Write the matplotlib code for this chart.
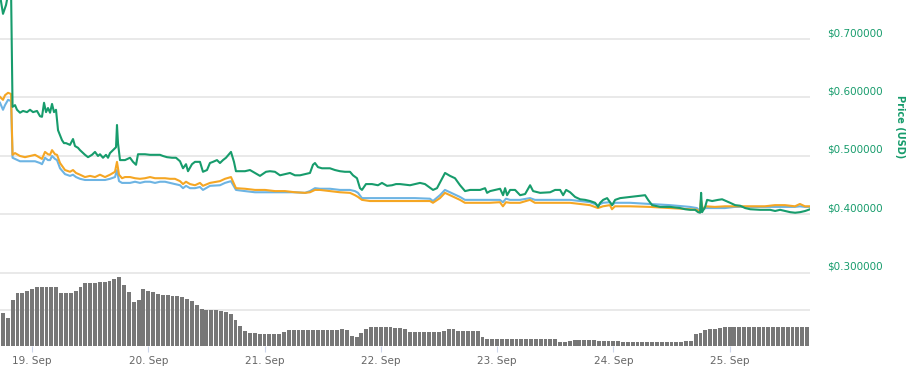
import matplotlib
matplotlib.use("Agg")
import matplotlib.pyplot as plt
from matplotlib.transforms import offset_copy

# hours since 19 Sep 00:00
green_hours = [-6.61, -5.99, -5.37, -4.75, -4.33, -4.02, -3.51, -3.10, -2.48, -1.86, -1.03, -0.41,
               0.21, 1.03, 1.65, 2.06, 2.48, 2.89, 3.30, 3.72, 4.13, 4.54, 4.95, 5.37, 6.19, 6.60,
               7.02, 7.84, 8.46, 8.87, 9.49, 9.91, 10.94, 11.56, 12.38, 13.00, 13.62, 14.03, 14.65,
               15.27, 15.69, 16.10, 16.72, 17.34, 17.54, 17.75, 18.16, 19.19, 20.23, 20.85, 21.47,
               21.88, 22.50, 23.32, 24.36, 25.39, 26.42, 27.04, 27.86, 28.90, 29.72, 30.55, 31.17,
               31.79, 32.20, 33.02, 33.64, 34.67, 35.29, 36.12, 36.73, 37.36, 38.18, 38.80, 39.42,
               40.04, 41.07, 41.69, 42.10, 43.96, 44.99, 46.03, 47.06, 48.30, 49.12, 50.15, 51.19,
               52.22, 53.25, 54.28, 55.32, 56.35, 57.38, 58.00, 58.41, 59.03, 59.85, 61.50, 62.54,
               63.57, 64.60, 65.64, 66.26, 67.08, 67.70, 68.11, 68.94, 70.18, 71.42, 72.24, 73.28,
               74.31, 75.14, 75.96, 78.03, 80.09, 81.12, 82.78, 83.60, 85.26, 86.29, 87.32, 88.36,
               89.39, 90.43, 92.49, 93.52, 93.94, 94.56, 95.59, 96.63, 97.24, 97.66, 98.07, 98.69,
               99.72, 100.76, 101.79, 102.82, 103.44, 104.89, 106.95, 107.98, 109.02, 109.64,
               110.26, 111.08, 112.11, 113.15, 114.18, 115.21, 116.24, 116.86, 117.28, 117.90,
               118.72, 119.75, 120.37, 121.40, 123.47, 125.53, 126.56, 127.18, 128.01, 129.66,
               131.72, 133.79, 134.82, 135.85, 136.88, 137.50, 137.92, 138.12, 138.33, 138.95,
               139.36, 140.40, 141.63, 142.46, 144.11, 145.14, 146.18, 147.21, 148.24, 150.31,
               152.37, 153.40, 154.43, 156.50, 157.53, 158.56, 159.60, 160.63]
green_price = [0.775, 0.743, 0.758, 0.785, 0.785, 0.584, 0.587, 0.579, 0.574, 0.577, 0.575, 0.579,
               0.575, 0.577, 0.568, 0.567, 0.591, 0.575, 0.582, 0.574, 0.589, 0.575, 0.579, 0.544,
               0.527, 0.522, 0.522, 0.519, 0.529, 0.517, 0.514, 0.510, 0.502, 0.498, 0.502, 0.507,
               0.500, 0.503, 0.497, 0.502, 0.497, 0.505, 0.510, 0.515, 0.553, 0.522, 0.493, 0.493,
               0.497, 0.490, 0.485, 0.503, 0.503, 0.503, 0.502, 0.502, 0.502, 0.500, 0.498, 0.497,
               0.497, 0.491, 0.479, 0.486, 0.474, 0.486, 0.490, 0.490, 0.473, 0.476, 0.488, 0.490,
               0.493, 0.488, 0.493, 0.497, 0.507, 0.490, 0.474, 0.474, 0.476, 0.471, 0.466, 0.473,
               0.474, 0.473, 0.467, 0.469, 0.471, 0.467, 0.467, 0.469, 0.471, 0.485, 0.488, 0.481,
               0.479, 0.479, 0.476, 0.474, 0.473, 0.473, 0.467, 0.462, 0.445, 0.442, 0.452, 0.452,
               0.450, 0.454, 0.449, 0.450, 0.452, 0.452, 0.450, 0.454, 0.452, 0.442, 0.445, 0.471,
               0.466, 0.462, 0.450, 0.440, 0.442, 0.442, 0.445, 0.437, 0.440, 0.442, 0.444, 0.433,
               0.445, 0.433, 0.442, 0.442, 0.433, 0.435, 0.450, 0.440, 0.437, 0.438, 0.442, 0.442,
               0.433, 0.442, 0.438, 0.430, 0.426, 0.425, 0.423, 0.420, 0.413, 0.420, 0.425, 0.428,
               0.416, 0.425, 0.428, 0.430, 0.432, 0.433, 0.425, 0.416, 0.413, 0.413, 0.411, 0.409,
               0.408, 0.408, 0.404, 0.403, 0.437, 0.404, 0.413, 0.425, 0.423, 0.425, 0.426, 0.420,
               0.416, 0.415, 0.411, 0.409, 0.408, 0.408, 0.406, 0.408, 0.404, 0.403, 0.404, 0.406,
               0.409]

ob_hours = [-6.61, -5.99, -5.57, -4.95, -4.33, -4.02, -3.51, -2.48, -1.45, -0.41, 0.62, 1.65, 2.06,
            2.68, 3.30, 3.72, 4.13, 4.75, 5.16, 5.78, 6.81, 7.84, 8.46, 9.08, 9.91, 10.94, 11.97,
            13.00, 14.03, 15.07, 16.10, 17.13, 17.54, 17.96, 18.58, 19.19, 20.23, 21.26, 22.29,
            23.32, 24.36, 25.39, 26.42, 27.45, 28.48, 29.51, 30.55, 31.17, 31.79, 32.61, 33.64,
            34.67, 35.29, 36.74, 38.80, 39.83, 41.07, 42.10, 43.96, 46.03, 48.09, 50.15, 52.22,
            54.28, 56.35, 57.38, 58.41, 59.44, 61.51, 63.57, 65.63, 66.67, 67.29, 68.11, 69.76,
            71.83, 73.89, 75.96, 79.05, 82.15, 82.77, 84.21, 85.24, 86.28, 88.34, 89.37, 92.47,
            94.53, 96.59, 97.21, 97.83, 98.66, 100.72, 102.79, 103.82, 106.91, 108.98, 111.04,
            113.11, 115.17, 116.82, 117.86, 119.30, 119.72, 120.33, 123.43, 127.56, 131.69,
            135.81, 137.26, 137.88, 138.08, 138.50, 139.11, 140.97, 143.03, 145.10, 147.16,
            149.23, 151.29, 153.36, 155.43, 157.49, 158.52, 159.55, 160.59]
orange_price = [0.601, 0.596, 0.604, 0.608, 0.606, 0.502, 0.505, 0.500, 0.498, 0.500, 0.502, 0.497,
                0.495, 0.507, 0.503, 0.502, 0.510, 0.503, 0.502, 0.488, 0.476, 0.473, 0.476, 0.471,
                0.468, 0.464, 0.466, 0.464, 0.468, 0.464, 0.468, 0.473, 0.490, 0.468, 0.462, 0.464,
                0.464, 0.462, 0.461, 0.462, 0.464, 0.462, 0.462, 0.462, 0.461, 0.461, 0.457, 0.452,
                0.456, 0.452, 0.450, 0.454, 0.449, 0.454, 0.457, 0.461, 0.464, 0.445, 0.444, 0.442,
                0.442, 0.440, 0.440, 0.438, 0.437, 0.438, 0.442, 0.442, 0.440, 0.438, 0.437, 0.433,
                0.430, 0.425, 0.423, 0.423, 0.423, 0.423, 0.423, 0.423, 0.420, 0.428, 0.437, 0.433,
                0.425, 0.420, 0.420, 0.420, 0.421, 0.414, 0.421, 0.420, 0.420, 0.425, 0.420, 0.420,
                0.420, 0.420, 0.418, 0.416, 0.411, 0.414, 0.416, 0.409, 0.414, 0.414, 0.413, 0.411,
                0.409, 0.408, 0.404, 0.425, 0.408, 0.414, 0.413, 0.414, 0.414, 0.414, 0.414, 0.414,
                0.416, 0.416, 0.414, 0.418, 0.414, 0.414]
blue_price = [0.591, 0.579, 0.587, 0.596, 0.594, 0.497, 0.495, 0.491, 0.491, 0.491, 0.491, 0.488,
              0.486, 0.497, 0.493, 0.493, 0.500, 0.495, 0.493, 0.479, 0.469, 0.466, 0.468, 0.464,
              0.461, 0.459, 0.459, 0.459, 0.459, 0.459, 0.461, 0.464, 0.476, 0.457, 0.454, 0.454,
              0.454, 0.456, 0.454, 0.456, 0.456, 0.454, 0.456, 0.456, 0.454, 0.452, 0.450, 0.445,
              0.449, 0.445, 0.445, 0.447, 0.442, 0.449, 0.450, 0.454, 0.457, 0.442, 0.440, 0.438,
              0.438, 0.438, 0.438, 0.438, 0.437, 0.440, 0.445, 0.444, 0.444, 0.442, 0.442, 0.440,
              0.437, 0.428, 0.428, 0.428, 0.428, 0.428, 0.428, 0.427, 0.423, 0.433, 0.442, 0.438,
              0.430, 0.425, 0.425, 0.425, 0.425, 0.421, 0.427, 0.425, 0.425, 0.428, 0.425, 0.425,
              0.425, 0.425, 0.423, 0.421, 0.416, 0.420, 0.421, 0.416, 0.420, 0.420, 0.418, 0.416,
              0.413, 0.411, 0.406, 0.420, 0.409, 0.411, 0.411, 0.411, 0.413, 0.413, 0.413, 0.413,
              0.413, 0.413, 0.413, 0.414, 0.413, 0.413]

# hourly total volume (millions USD), first bar at 18 Sep 18:00
vol_hours = list(range(-6, 161))
volume = [90, 77, 126, 145, 145, 151,
          156, 162, 162, 162, 162, 162,
          145, 145, 145, 151, 162, 173,
          173, 173, 175, 175, 178, 184,
          189, 167, 148, 121, 126, 156,
          151, 148, 142, 140, 140, 137,
          137, 134, 129, 123, 112, 101,
          99, 99, 99, 96, 93, 88,
          71, 55, 41, 36, 36, 33,
          33, 33, 33, 33, 38, 44,
          44, 44, 44, 44, 44, 44,
          44, 44, 44, 44, 47, 44,
          27, 25, 36, 47, 52, 52,
          52, 52, 52, 49, 49, 47,
          38, 38, 38, 38, 38, 38,
          38, 41, 47, 47, 41, 41,
          41, 41, 41, 25, 19, 19,
          19, 19, 19, 19, 19, 19,
          19, 19, 19, 19, 19, 19,
          19, 11, 11, 14, 16, 16,
          16, 16, 16, 14, 14, 14,
          14, 14, 11, 11, 11, 11,
          11, 11, 11, 11, 11, 11,
          11, 11, 11, 14, 14, 33,
          36, 44, 47, 47, 49, 52,
          52, 52, 52, 52, 52, 52,
          52, 52, 52, 52, 52, 52,
          52, 52, 52, 52, 52]

day_ticks = [0, 24, 48, 72, 96, 120, 144]
day_labels = ["19. Sep", "20. Sep", "21. Sep", "22. Sep", "23. Sep", "24. Sep", "25. Sep"]
price_ticks = [0.3, 0.4, 0.5, 0.6, 0.7]

GREEN = "#179c6c"
ORANGE = "#f5a623"
BLUE = "#6db4e3"
GRID = "#e3e3e3"

fig = plt.figure(figsize=(9.18, 3.76), dpi=100)
rect = [0, 30 / 376, 810 / 918, 346 / 376]
vax = fig.add_axes(rect)
ax = fig.add_axes(rect, sharex=vax)
ax.patch.set_visible(False)

# volume
vax.bar(vol_hours, volume, width=0.8, color="#777777", linewidth=0, zorder=2)
vax.axhline(100, color=GRID, lw=1.1, zorder=1)
vax.set_ylim(0, 948)
vax.set_yticks([])
vax.set_xlim(-6.61, 160.6)
vax.set_xticks(day_ticks)
vax.set_xticklabels(day_labels, color="#666666", fontsize=7.5)
vax.tick_params(axis="x", length=4.5, width=0.8, color="#ccd6eb", pad=3)
for s in vax.spines.values():
    s.set_visible(False)

# prices
ax.set_ylim(0.1752, 0.76667)
for p in price_ticks:
    ax.axhline(p, color=GRID, lw=1.1, zorder=0)
ax.plot(ob_hours, blue_price, color=BLUE, lw=1.5, zorder=3)
ax.plot(ob_hours, orange_price, color=ORANGE, lw=1.5, zorder=4)
ax.plot(green_hours, green_price, color=GREEN, lw=1.5, zorder=5)
ax.set_yticks([])
ax.tick_params(axis="x", bottom=False, labelbottom=False)
for s in ax.spines.values():
    s.set_visible(False)

lab_tr = offset_copy(ax.get_yaxis_transform(), fig=fig, x=17, y=6, units="dots")
for p in price_ticks:
    ax.text(1.0, p, f"${p:.6f}", transform=lab_tr, color=GREEN, fontsize=7.5,
            ha="left", va="center", clip_on=False)

fig.text(900 / 918, 1 - 127 / 376, "Price (USD)", rotation=270, color=GREEN,
         fontsize=7, fontweight="bold", ha="center", va="center")

fig.savefig("out.png", dpi=100)
